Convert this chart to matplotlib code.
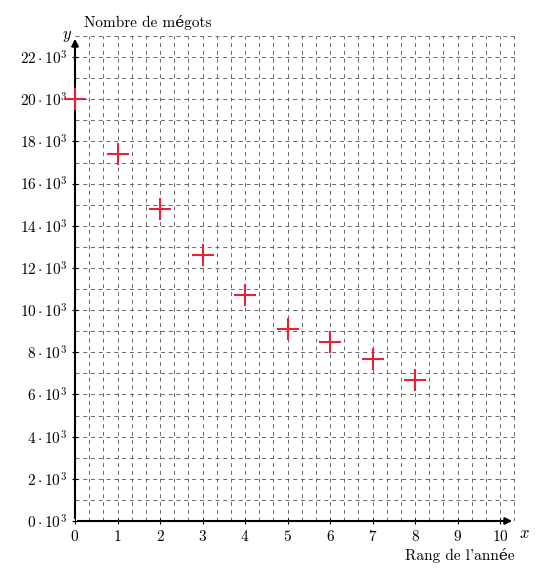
import numpy as np
import matplotlib
matplotlib.use("Agg")
import matplotlib.pyplot as plt

plt.rcParams["mathtext.fontset"] = "cm"
plt.rcParams["font.family"] = ["cmr10", "DejaVu Serif"]

years = [0, 1, 2, 3, 4, 5, 6, 7, 8]
butts = [20000, 17400, 14800, 12600, 10700, 9100, 8500, 7700, 6700]
xticks = list(range(0, 11))
yticks = list(range(0, 23000, 2000))

fig = plt.figure(figsize=(5.40, 5.73), dpi=100)
ax = fig.add_axes([75 / 540, 1 - 521 / 573, (515 - 75) / 540, (521 - 36) / 573])
ax.set_xlim(0, 10.35)
ax.set_ylim(0, 23000)

for gx in np.arange(1 / 3, 10.35, 1 / 3):
    ax.axvline(gx, color="#666666", lw=0.7, ls=(0, (4, 4)), zorder=1)
for gy in range(1000, 23001, 1000):
    ax.axhline(gy, color="#666666", lw=0.7, ls=(0, (4, 4)), zorder=1)

for s in ax.spines.values():
    s.set_visible(False)
ax.annotate("", xy=(10.35, 0), xytext=(0, 0), xycoords="data",
            arrowprops=dict(arrowstyle="-|>", color="black", lw=1.5), annotation_clip=False)
ax.annotate("", xy=(0, 23000), xytext=(0, 0), xycoords="data",
            arrowprops=dict(arrowstyle="-|>", color="black", lw=1.5), annotation_clip=False)

ax.scatter(years, butts, marker="+", s=260, color="#e8213a", linewidths=1.5, zorder=5, clip_on=False)

ax.set_xticks(xticks)
ax.set_xticklabels([f"${v}$" for v in xticks], fontsize=11)
ax.set_yticks(yticks)
ax.set_yticklabels([rf"${v // 1000}\cdot10^3$" for v in yticks], fontsize=11)
ax.tick_params(length=4, width=0.8, direction="inout")

ax.text(10.45, -200, "$x$", fontsize=12, va="top")
ax.text(-0.3, 23000, "$y$", fontsize=12, va="center")
ax.text(0.2, 23300, "Nombre de mégots", fontsize=11, va="bottom")
ax.text(10.35, -1300, "Rang de l'année", fontsize=11, ha="right", va="top")

fig.savefig("out.png", dpi=100)
